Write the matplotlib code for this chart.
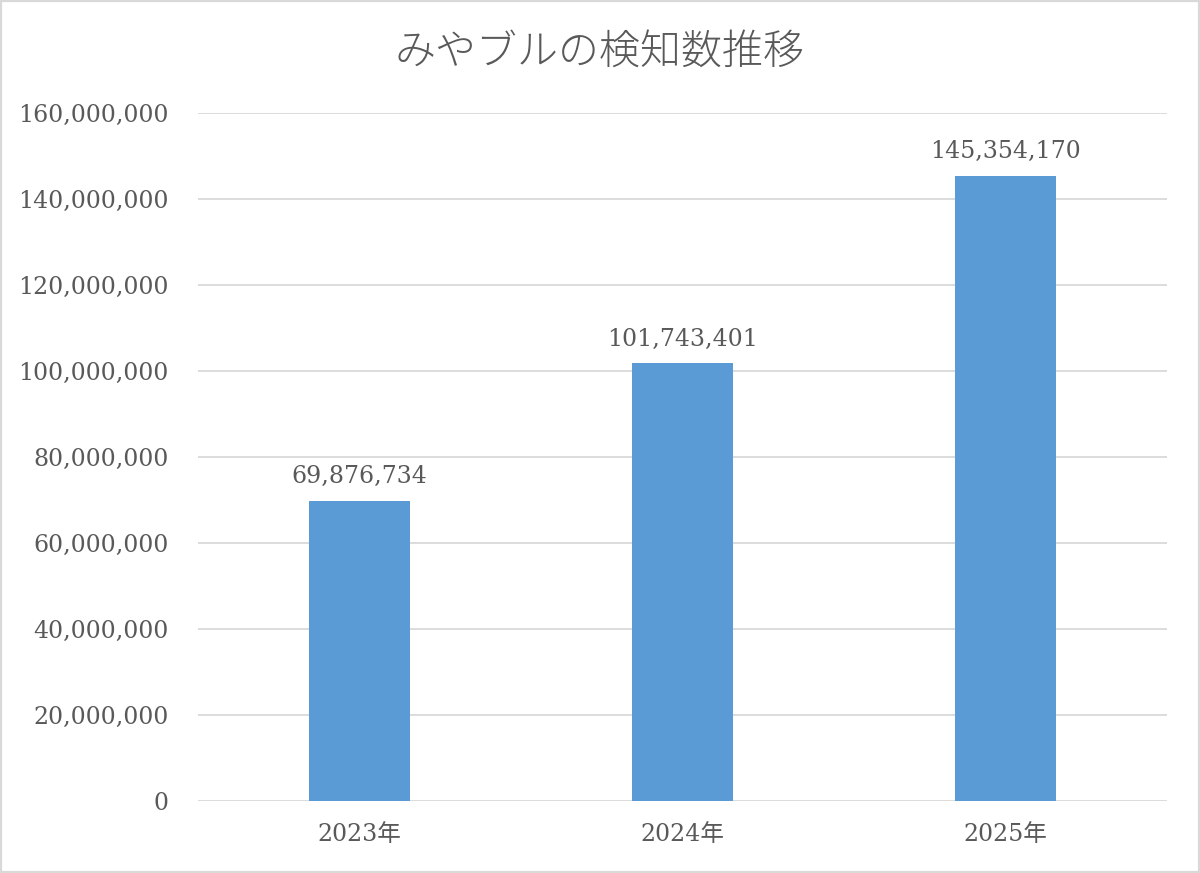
import matplotlib.pyplot as plt
from matplotlib.ticker import FuncFormatter
from matplotlib.patches import Rectangle

plt.rcParams['font.family'] = ['DejaVu Serif', 'Noto Sans CJK JP']

# data
years = ["2023年", "2024年", "2025年"]
counts = [69876734, 101743401, 145354170]
y_ticks = [0, 20000000, 40000000, 60000000, 80000000, 100000000,
           120000000, 140000000, 160000000]

BAR_COLOR = "#5B9BD5"
TEXT_COLOR = "#595959"
GRID_COLOR = "#D9D9D9"

fig = plt.figure(figsize=(12, 8.73), dpi=100)
ax = fig.add_axes([0.165, 0.0825, 0.8075, 0.7881])

x = list(range(len(years)))
ax.bar(x, counts, width=0.31, color=BAR_COLOR, zorder=3)

for xi, v in zip(x, counts):
    ax.text(xi, v + 3000000, f"{v:,}", ha="center", va="bottom",
            fontsize=17, color=TEXT_COLOR)

ax.set_xlim(-0.5, 2.5)
ax.set_ylim(0, 160000000)
ax.set_yticks(y_ticks)
ax.yaxis.set_major_formatter(FuncFormatter(lambda v, p: f"{int(v):,}"))
ax.set_xticks(x)
ax.set_xticklabels(years)

ax.grid(axis="y", color=GRID_COLOR, linewidth=1.3, zorder=0)
for s in ax.spines.values():
    s.set_visible(False)
ax.tick_params(axis="both", length=0, labelsize=17, labelcolor=TEXT_COLOR)
ax.tick_params(axis="y", pad=21)
ax.tick_params(axis="x", pad=16)

fig.text(0.5, 0.941, "みやブルの検知数推移", ha="center", va="center",
         fontsize=29.5, color=TEXT_COLOR, family=['Noto Sans CJK JP'],
         fontweight="light")

# thin grey frame around the whole chart
fig.patches.append(Rectangle((0, 0), 1, 1, transform=fig.transFigure,
                             fill=False, edgecolor="#D9D9D9", linewidth=3))

fig.savefig("out.png", dpi=100, facecolor="white")
